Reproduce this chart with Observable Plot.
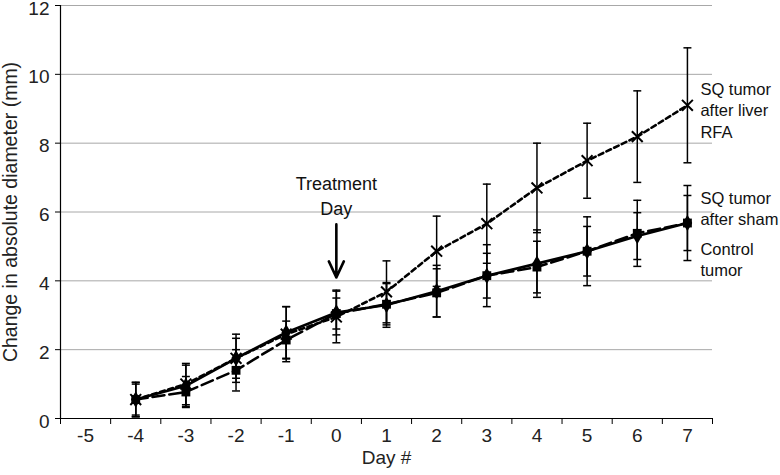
<!DOCTYPE html>
<html><head><meta charset="utf-8">
<script src="https://cdn.jsdelivr.net/npm/d3@7"></script>
<script src="https://cdn.jsdelivr.net/npm/@observablehq/plot@0.6"></script>
<style>body{margin:0;background:#fff}</style>
</head><body><div id="chart"></div>
<script>
// ---- data ----
const days = [-4, -3, -2, -1, 0, 1, 2, 3, 4, 5, 6, 7];
const dayTicks = [-5, -4, -3, -2, -1, 0, 1, 2, 3, 4, 5, 6, 7];
const yTicks = [0, 2, 4, 6, 8, 10, 12];

const rfaMean  = [0.55, 1.00, 1.75, 2.45, 2.95, 3.68, 4.86, 5.66, 6.70, 7.49, 8.19, 9.10];
const rfaErr   = [0.50, 0.60, 0.70, 0.80, 0.75, 0.90, 1.02, 1.15, 1.30, 1.09, 1.33, 1.67];
const shamMean = [0.55, 0.77, 1.40, 2.28, 3.05, 3.32, 3.65, 4.15, 4.40, 4.86, 5.38, 5.68];
const shamErr  = [0.45, 0.45, 0.60, 0.55, 0.45, 0.60, 0.70, 0.65, 0.75, 0.72, 0.96, 0.80];
const ctrlMean = [0.55, 0.95, 1.75, 2.50, 3.08, 3.30, 3.70, 4.15, 4.50, 4.86, 5.30, 5.68];
const ctrlErr  = [0.50, 0.60, 0.58, 0.75, 0.65, 0.65, 0.75, 0.90, 0.98, 1.00, 0.68, 1.09];

const seriesNames  = ["SQ tumor after liver RFA", "SQ tumor after sham", "Control tumor"];
const seriesLabels = ["SQ tumor\nafter liver\nRFA", "SQ tumor\nafter sham", "Control\ntumor"];
const annotationText = "Treatment\nDay";
const xLabel = "Day #";
const yLabel = "Change in absolute diameter (mm)";

// ---- build rows ----
const means = [rfaMean, shamMean, ctrlMean];
const errs = [rfaErr, shamErr, ctrlErr];
const rows = [];
seriesNames.forEach((s, si) => days.forEach((d, i) => rows.push({
  series: s, day: d, value: means[si][i], lo: means[si][i] - errs[si][i], hi: means[si][i] + errs[si][i]
})));
const bySeries = s => rows.filter(r => r.series === s);

// style per series
const dash = ["5,3.5", "12,5", null];
const hline = {draw(ctx, size) { const w = Math.sqrt(size) / 2; ctx.moveTo(-w, 0); ctx.lineTo(w, 0); }};

// label anchors (layout)
const labelPos = [
  {text: seriesLabels[0], day: 7, value: 8.98},
  {text: seriesLabels[1], day: 7, value: 6.13},
  {text: seriesLabels[2], day: 7, value: 4.65}
];

const marks = [
  Plot.gridY(yTicks.filter(t => t > 0), {stroke: "#a8a8a8", strokeOpacity: 1, strokeWidth: 1}),
  Plot.ruleX([-5.5], {stroke: "#000", strokeWidth: 1.2}),
  Plot.ruleY([0], {stroke: "#000", strokeWidth: 1.2}),
  // y axis ticks + labels
  Plot.axisY({ticks: yTicks, tickSize: 5, tickFormat: () => "", label: null}),
  Plot.text(yTicks, {y: d => d, frameAnchor: "left", textAnchor: "end", dx: -11, dy: 3, text: d => String(d), fontSize: 19, fill: "#222"}),
  Plot.text([yLabel], {frameAnchor: "left", textAnchor: "middle", rotate: -90, dx: -50, fontSize: 19.5, fill: "#222"}),
  // x axis ticks (between categories) + labels
  Plot.axisX({ticks: dayTicks.map(d => d - 0.5).concat([7.5]), tickSize: 6, tickFormat: () => "", label: null}),
  Plot.text(dayTicks, {x: d => d, frameAnchor: "bottom", dy: 23, text: d => String(d), fontSize: 19, fill: "#222"}),
  Plot.text([xLabel], {frameAnchor: "bottom", dy: 45, fontSize: 19, fill: "#222"})
];

seriesNames.forEach((s, si) => {
  const data = bySeries(s);
  marks.push(
    Plot.ruleX(data, {x: "day", y1: "lo", y2: "hi", stroke: "#000", strokeWidth: 1.5}),
    Plot.dot(data, {x: "day", y: "lo", symbol: hline, r: 4.5, stroke: "#000", strokeWidth: 1.5}),
    Plot.dot(data, {x: "day", y: "hi", symbol: hline, r: 4.5, stroke: "#000", strokeWidth: 1.5}),
    Plot.line(data, {x: "day", y: "value", stroke: "#000", strokeWidth: 2.6, strokeDasharray: dash[si]})
  );
});
marks.push(
  Plot.dot(bySeries(seriesNames[0]), {x: "day", y: "value", symbol: "times", r: 5, stroke: "#000", strokeWidth: 2}),
  Plot.dot(bySeries(seriesNames[1]), {x: "day", y: "value", symbol: "square", r: 5, fill: "#000"}),
  Plot.dot(bySeries(seriesNames[2]), {x: "day", y: "value", symbol: "diamond", r: 5, fill: "#000"}),
  Plot.text(labelPos, {x: "day", y: "value", text: "text", textAnchor: "start", dx: 13, fontSize: 16.5, lineHeight: 1.3, fill: "#111"}),
  Plot.text([{day: 0, value: 6.5, text: annotationText}], {x: "day", y: "value", text: "text", fontSize: 18, lineHeight: 1.35, fill: "#111"}),
  Plot.arrow([{day: 0, y1: 5.64, y2: 4.1}], {x: "day", y1: "y1", y2: "y2", stroke: "#000", strokeWidth: 2.6, headLength: 14, headAngle: 50})
);

const chart = Plot.plot({
  width: 780, height: 475,
  marginLeft: 60, marginRight: 68, marginTop: 5, marginBottom: 57,
  style: {fontFamily: "'Liberation Sans', Arial, sans-serif", fontSize: "18px", background: "#fff", color: "#000"},
  x: {domain: [-5.5, 7.5]},
  y: {domain: [0, 12]},
  marks
});
document.getElementById("chart").appendChild(chart);
</script>
</body></html>
